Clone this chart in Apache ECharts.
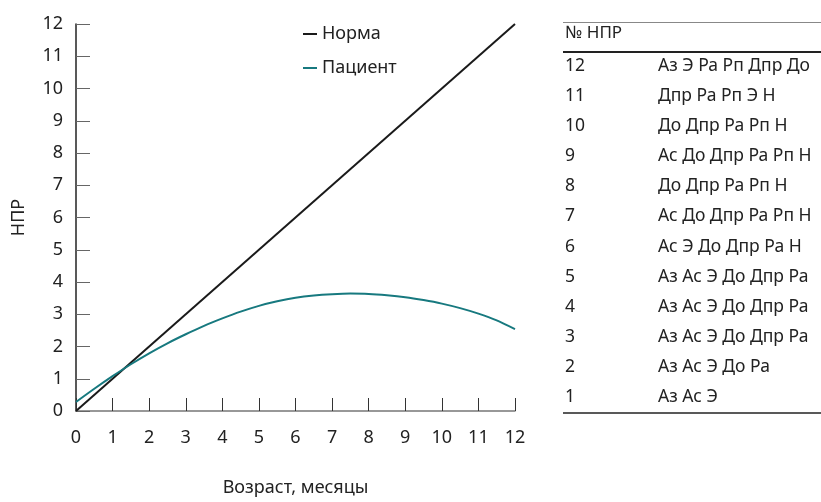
<!DOCTYPE html>
<html>
<head>
<meta charset="utf-8">
<script src="https://cdn.jsdelivr.net/npm/echarts@6/dist/echarts.min.js"></script>
<style>
  html, body { margin: 0; padding: 0; background: #fff; }
  #chart { width: 821px; height: 502px; }
</style>
</head>
<body>
<div id="chart"></div>
<script>
// данные графика
const normaAges = [0, 12]
const normaValues = [0, 12]
const patientAges = [0, 0.5, 1, 1.5, 2, 2.5, 3, 3.5, 4, 4.5, 5, 5.5, 6, 6.5, 7, 7.5, 8, 8.5, 9, 9.5, 10, 10.5, 11, 11.5, 12]
const patientValues = [0.28, 0.69, 1.08, 1.45, 1.79, 2.1, 2.38, 2.64, 2.87, 3.08, 3.26, 3.4, 3.51, 3.58, 3.62, 3.64, 3.63, 3.59, 3.53, 3.44, 3.33, 3.19, 3.02, 2.81, 2.54]

// таблица НПР
const tableHeader = '№ НПР'
const nprNums = ['12', '11', '10', '9', '8', '7', '6', '5', '4', '3', '2', '1']
const nprItems = [
  'Аз Э Ра Рп Дпр До',
  'Дпр Ра Рп Э Н',
  'До Дпр Ра Рп Н',
  'Ас До Дпр Ра Рп Н',
  'До Дпр Ра Рп Н',
  'Ас До Дпр Ра Рп Н',
  'Ас Э До Дпр Ра Н',
  'Аз Ас Э До Дпр Ра',
  'Аз Ас Э До Дпр Ра',
  'Аз Ас Э До Дпр Ра',
  'Аз Ас Э До Ра',
  'Аз Ас Э'
]

const FONT = 'Noto Sans'
const textColor = '#222'
const fs = 18

const chart = echarts.init(document.getElementById('chart'))

// линии и строки таблицы
const tableGraphics = [
  { type: 'line', shape: { x1: 563, y1: 22.5, x2: 821, y2: 22.5 }, style: { stroke: '#888', lineWidth: 1 } },
  { type: 'line', shape: { x1: 563, y1: 52, x2: 821, y2: 52 }, style: { stroke: '#222', lineWidth: 2 } },
  { type: 'line', shape: { x1: 563, y1: 413, x2: 821, y2: 413 }, style: { stroke: '#222', lineWidth: 1.5 } },
  {
    type: 'text', left: 565, top: 25,
    style: { text: tableHeader, fill: textColor, font: '17px ' + FONT }
  }
]
nprNums.forEach((n, i) => {
  const y = 57 + i * 30.1
  tableGraphics.push({
    type: 'text', left: 565, top: y,
    style: { text: n, fill: textColor, font: '17.5px ' + FONT }
  })
  tableGraphics.push({
    type: 'text', left: 658, top: y,
    style: { text: nprItems[i], fill: textColor, font: '17.5px ' + FONT }
  })
})

chart.setOption({
  animation: false,
  textStyle: { fontFamily: FONT },
  grid: { left: 76, right: 306, top: 24, bottom: 89 },
  legend: {
    orient: 'vertical',
    left: 298,
    top: 18,
    itemWidth: 14,
    itemHeight: 2,
    itemGap: 12,
    icon: 'rect',
    textStyle: { fontSize: fs, color: textColor, fontFamily: FONT, lineHeight: 22 },
    data: ['Норма', 'Пациент']
  },
  xAxis: {
    type: 'value',
    min: 0,
    max: 12,
    interval: 1,
    name: 'Возраст, месяцы',
    nameLocation: 'middle',
    nameGap: 68,
    nameTextStyle: { fontSize: fs, color: textColor },
    splitLine: { show: false },
    axisLine: { lineStyle: { color: '#777', width: 1.5 } },
    axisTick: { inside: true, length: 13, lineStyle: { color: '#333', width: 1 } },
    axisLabel: { fontSize: fs, color: textColor, margin: 18 }
  },
  yAxis: {
    type: 'value',
    min: 0,
    max: 12,
    interval: 1,
    name: 'НПР',
    nameLocation: 'middle',
    nameGap: 48,
    nameTextStyle: { fontSize: fs, color: textColor },
    splitLine: { show: false },
    axisLine: { show: true, lineStyle: { color: '#222', width: 1.5 } },
    axisTick: { show: true, inside: true, length: 14, lineStyle: { color: '#666', width: 1 } },
    axisLabel: { fontSize: fs, color: textColor, margin: 13 }
  },
  graphic: tableGraphics,
  series: [
    {
      name: 'Норма',
      type: 'line',
      data: normaAges.map((x, i) => [x, normaValues[i]]),
      showSymbol: false,
      color: '#1a1a1a',
      lineStyle: { color: '#1a1a1a', width: 2 }
    },
    {
      name: 'Пациент',
      type: 'line',
      smooth: 0.25,
      data: patientAges.map((x, i) => [x, patientValues[i]]),
      showSymbol: false,
      color: '#17797f',
      lineStyle: { color: '#17797f', width: 2 }
    }
  ]
})
</script>
</body>
</html>
